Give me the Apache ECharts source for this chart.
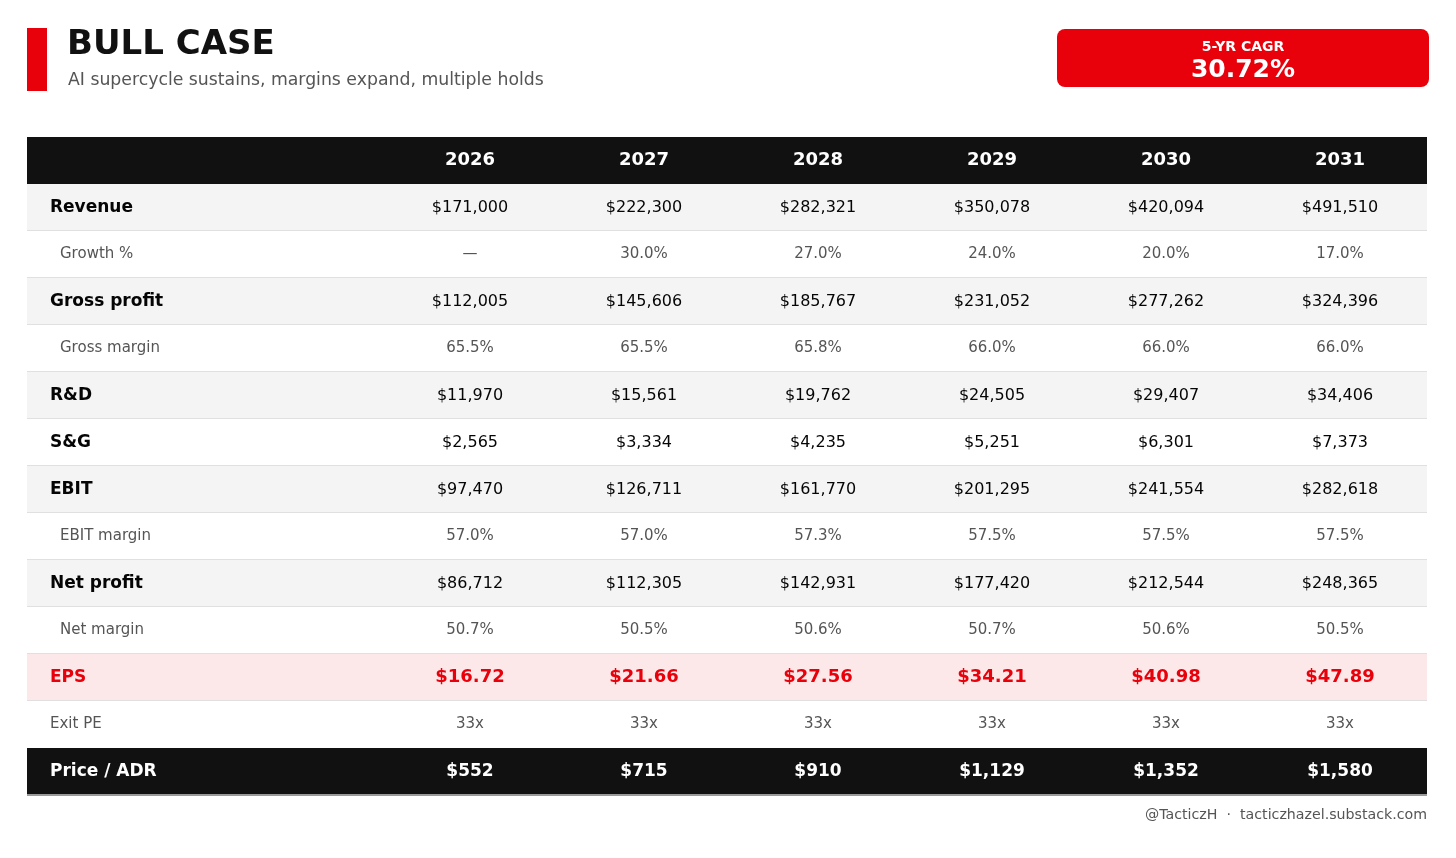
<!DOCTYPE html>
<html>
<head>
<meta charset="utf-8">
<script src="https://cdn.jsdelivr.net/npm/echarts@6/dist/echarts.min.js"></script>
<style>
  html, body { margin: 0; background: #fff; }
  #chartDom { width: 1456px; height: 858px; }
</style>
</head>
<body>
<div id="chartDom"></div>
<script>
// table data
var years = ['2026', '2027', '2028', '2029', '2030', '2031'];
var rowNames = ['Revenue', 'Growth %', 'Gross profit', 'Gross margin', 'R&D', 'S&G', 'EBIT',
  'EBIT margin', 'Net profit', 'Net margin', 'EPS', 'Exit PE', 'Price / ADR'];
var revenue = [171000, 222300, 282321, 350078, 420094, 491510];
var growth = [null, 30.0, 27.0, 24.0, 20.0, 17.0];
var grossProfit = [112005, 145606, 185767, 231052, 277262, 324396];
var grossMargin = [65.5, 65.5, 65.8, 66.0, 66.0, 66.0];
var rnd = [11970, 15561, 19762, 24505, 29407, 34406];
var sng = [2565, 3334, 4235, 5251, 6301, 7373];
var ebit = [97470, 126711, 161770, 201295, 241554, 282618];
var ebitMargin = [57.0, 57.0, 57.3, 57.5, 57.5, 57.5];
var netProfit = [86712, 112305, 142931, 177420, 212544, 248365];
var netMargin = [50.7, 50.5, 50.6, 50.7, 50.6, 50.5];
var eps = [16.72, 21.66, 27.56, 34.21, 40.98, 47.89];
var exitPE = [33, 33, 33, 33, 33, 33];
var price = [552, 715, 910, 1129, 1352, 1580];
var cagr = '30.72%';

var RED = '#e8000b';
var FONT = 'DejaVu Sans';

function money(v) { return '$' + v.toLocaleString('en-US'); }
function pct(v) { return v == null ? '—' : v.toFixed(1) + '%'; }

// one entry per table row: values, formatter and style kind
var rows = [
  { vals: revenue, fmt: money, kind: 'main' },
  { vals: growth, fmt: pct, kind: 'sub' },
  { vals: grossProfit, fmt: money, kind: 'main' },
  { vals: grossMargin, fmt: pct, kind: 'sub' },
  { vals: rnd, fmt: money, kind: 'main' },
  { vals: sng, fmt: money, kind: 'main' },
  { vals: ebit, fmt: money, kind: 'main' },
  { vals: ebitMargin, fmt: pct, kind: 'sub' },
  { vals: netProfit, fmt: money, kind: 'main' },
  { vals: netMargin, fmt: pct, kind: 'sub' },
  { vals: eps, fmt: function (v) { return '$' + v.toFixed(2); }, kind: 'eps' },
  { vals: exitPE, fmt: function (v) { return v + 'x'; }, kind: 'pe' },
  { vals: price, fmt: money, kind: 'price' }
];

var styles = {
  head:  { lw: 'bold', ls: 17, lc: '#fff', vw: 'bold', vs: 18, vc: '#fff' },
  main:  { lw: 'bold', ls: 17, lc: '#050505', vw: 'normal', vs: 16, vc: '#050505' },
  sub:   { lw: 'normal', ls: 15, lc: '#555', vw: 'normal', vs: 15, vc: '#555', indent: true },
  eps:   { lw: 'bold', ls: 17, lc: RED, vw: 'bold', vs: 18, vc: RED },
  pe:    { lw: 'normal', ls: 15, lc: '#555', vw: 'normal', vs: 15, vc: '#555' },
  price: { lw: 'bold', ls: 17, lc: '#fff', vw: 'bold', vs: 17, vc: '#fff' }
};

// x axis units: one year column = 1, label column is wider
var labelWidth = 356 / 174;
var xMin = -0.5 - labelWidth;
var xMax = years.length - 0.5;
var rowKeys = ['head'].concat(rowNames);
var nRows = rowKeys.length;

function rowFill(r) {
  if (r === 0 || r === nRows - 1) return '#111111';
  if (rows[r - 1].kind === 'eps') return '#fde8e9';
  return (r - 1) % 2 === 0 ? '#f4f4f4' : '#ffffff';
}

var bgData = rowKeys.map(function (k, i) { return [xMin, i]; });

var cells = [];
years.forEach(function (y, c) {
  cells.push({ value: [c, 0], text: y, st: styles.head, label: false });
});
rows.forEach(function (row, r) {
  var st = styles[row.kind];
  cells.push({ value: [xMin + (st.indent ? 33 : 23) / 174, r + 1], text: rowNames[r], st: st, label: true });
  row.vals.forEach(function (v, c) {
    cells.push({ value: [c, r + 1], text: row.fmt(v), st: st, label: false });
  });
});

function renderRow(params, api) {
  var cs = params.coordSys;
  var r = api.value(1);
  var p = api.coord([xMin, r]);
  var h = cs.height / nRows;
  var top = p[1] - h / 2;
  var children = [{
    type: 'rect',
    shape: { x: cs.x, y: top, width: cs.width, height: h },
    style: { fill: rowFill(r) }
  }];
  if (r > 0 && r < nRows - 2) {
    children.push({ type: 'rect', shape: { x: cs.x, y: top + h - 1, width: cs.width, height: 1 }, style: { fill: '#e0e0e0' } });
  }
  if (r === nRows - 1) {
    children.push({ type: 'rect', shape: { x: cs.x, y: top + h - 1, width: cs.width, height: 2 }, style: { fill: '#9a9a9a' } });
  }
  return { type: 'group', children: children };
}

function renderCell(params, api) {
  var cell = cells[params.dataIndex];
  var st = cell.st;
  var p = api.coord([api.value(0), api.value(1)]);
  return {
    type: 'text',
    x: p[0], y: p[1],
    style: {
      text: cell.text,
      fill: cell.label ? st.lc : st.vc,
      fontFamily: FONT,
      fontWeight: cell.label ? st.lw : st.vw,
      fontSize: cell.label ? st.ls : st.vs,
      align: cell.label ? 'left' : 'center',
      verticalAlign: 'middle',
      textAlign: cell.label ? 'left' : 'center',
      textVerticalAlign: 'middle'
    }
  };
}

var myChart = echarts.init(document.getElementById('chartDom'));

var option = {
  backgroundColor: '#fff',
  animation: false,
  textStyle: { fontFamily: FONT },
  grid: { left: 27, right: 29, top: 137, bottom: 63 },
  xAxis: { type: 'value', min: xMin, max: xMax, show: false },
  yAxis: { type: 'category', data: rowKeys, inverse: true, show: false },
  graphic: [
    { type: 'rect', shape: { x: 27, y: 28, width: 20, height: 63 }, style: { fill: RED } },
    { type: 'text', x: 67, y: 45, style: { text: 'BULL CASE', fill: '#111', fontFamily: FONT, fontWeight: 'bold', fontSize: 34, textVerticalAlign: 'middle' } },
    { type: 'text', x: 68, y: 81, style: { text: 'AI supercycle sustains, margins expand, multiple holds', fill: '#555', fontFamily: FONT, fontSize: 17.3, textVerticalAlign: 'middle' } },
    { type: 'rect', shape: { x: 1057, y: 29, width: 372, height: 58, r: 8 }, style: { fill: RED } },
    { type: 'text', x: 1243, y: 47, style: { text: '5-YR CAGR', fill: '#fff', fontFamily: FONT, fontWeight: 'bold', fontSize: 14, textAlign: 'center', textVerticalAlign: 'middle' } },
    { type: 'text', x: 1243, y: 70, style: { text: cagr, fill: '#fff', fontFamily: FONT, fontWeight: 'bold', fontSize: 25, textAlign: 'center', textVerticalAlign: 'middle' } },
    { type: 'text', x: 1427, y: 815, style: { text: '@TacticzH  ·  tacticzhazel.substack.com', fill: '#555', fontFamily: FONT, fontSize: 14.2, textAlign: 'right', textVerticalAlign: 'middle' } }
  ],
  series: [
    { type: 'custom', renderItem: renderRow, data: bgData, silent: true, z: 1 },
    { type: 'custom', renderItem: renderCell, data: cells.map(function (c) { return c.value; }), silent: true, z: 2 }
  ]
};

myChart.setOption(option);
</script>
</body>
</html>
